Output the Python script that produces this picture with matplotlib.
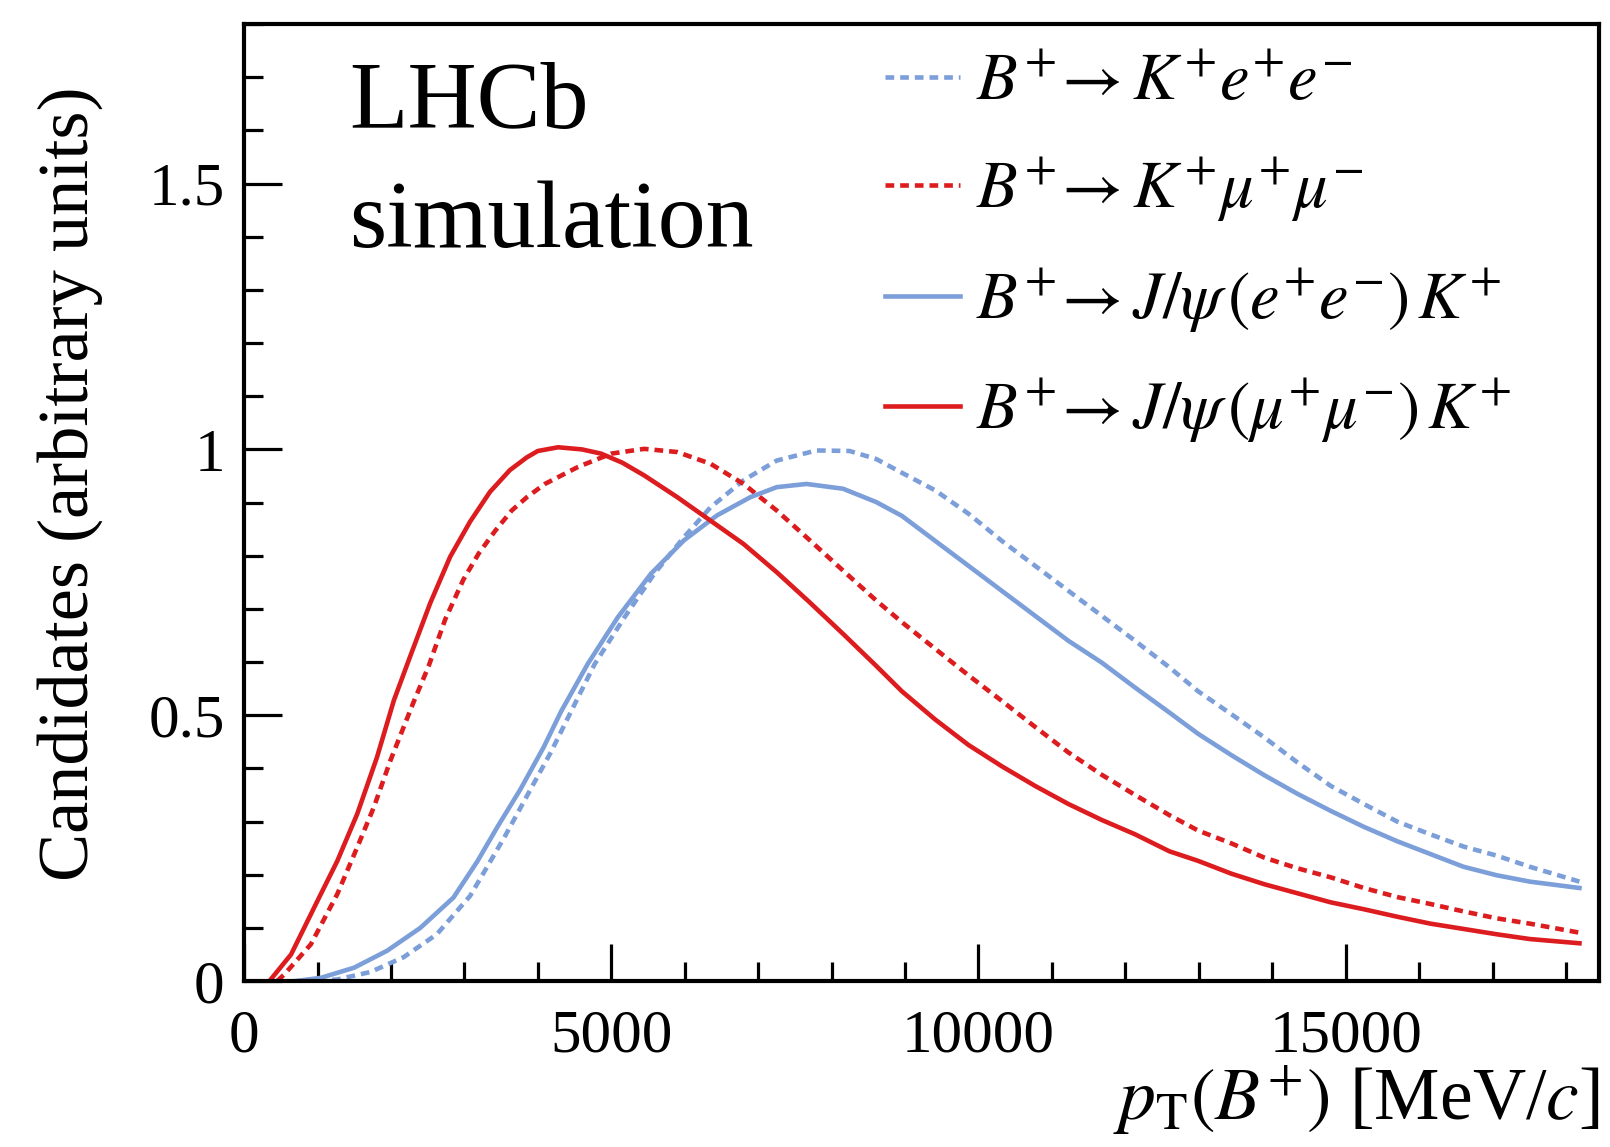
import numpy as np
import matplotlib
matplotlib.use("Agg")
import matplotlib.pyplot as plt
from matplotlib.ticker import MultipleLocator, FuncFormatter

plt.rcParams["font.family"] = ["Liberation Serif", "DejaVu Serif"]
plt.rcParams["mathtext.fontset"] = "stix"

# --- values (pT in MeV/c, normalised candidates) ---
kee_pt = [1000, 1271, 1722, 2174, 2625, 3077, 3226, 3543, 3859, 4176, 4456, 4773, 5179,
          5585, 5990, 6351, 6802, 7253, 7794, 8245, 8606, 8957, 9410, 9864, 10317, 10771,
          11224, 11678, 12132, 12600, 12991, 13442, 13894, 14345, 14797, 15248, 15700,
          16151, 16603, 17054, 17506, 18183]
kee_y = [0.0, 0.003, 0.017, 0.045, 0.088, 0.16, 0.195, 0.27, 0.35, 0.43, 0.508, 0.596, 0.684,
         0.766, 0.835, 0.891, 0.942, 0.979, 0.998, 0.997, 0.982, 0.956, 0.923, 0.879, 0.828, 0.781,
         0.734, 0.687, 0.64, 0.59, 0.545, 0.502, 0.458, 0.411, 0.367, 0.333, 0.30,
         0.276, 0.253, 0.236, 0.215, 0.187]

kmm_pt = [450, 549, 909, 1271, 1542, 1767, 1993, 2309, 2512, 2738, 2986, 3194, 3420, 3644,
          3850, 4096, 4547, 4997, 5449, 5900, 6351, 6802, 7253, 7704, 8156, 8606, 8957,
          9410, 9864, 10317, 10771, 11224, 11678, 12132, 12600, 12991, 13442, 13894,
          14345, 14797, 15248, 15700, 16151, 16603, 17054, 17506, 18183]
kmm_y = [0.0, 0.0126, 0.069, 0.164, 0.252, 0.327, 0.415, 0.525, 0.592, 0.68, 0.755, 0.804, 0.847, 0.885,
         0.91, 0.935, 0.967, 0.992, 1.001, 0.995, 0.973, 0.935, 0.885, 0.829, 0.772, 0.716, 0.675,
         0.625, 0.575, 0.527, 0.478, 0.43, 0.388, 0.35, 0.312, 0.283, 0.259, 0.232,
         0.212, 0.195, 0.175, 0.158, 0.145, 0.131, 0.118, 0.108, 0.091]

jpsiee_pt = [700, 1045, 1497, 1948, 2400, 2851, 3176, 3450, 3760, 4080, 4320, 4682, 5088,
             5539, 5990, 6441, 6892, 7253, 7659, 8156, 8606, 8957, 9410, 9864, 10317, 10771,
             11224, 11678, 12132, 12600, 12991, 13442, 13894, 14345, 14797, 15248, 15700,
             16151, 16603, 17054, 17506, 18183]
jpsiee_y = [0.0, 0.006, 0.025, 0.057, 0.10, 0.157, 0.225, 0.29, 0.36, 0.44, 0.508, 0.597, 0.684,
            0.766, 0.829, 0.876, 0.91, 0.929, 0.935, 0.926, 0.901, 0.875, 0.828, 0.781, 0.734, 0.687,
            0.64, 0.599, 0.552, 0.505, 0.465, 0.425, 0.387, 0.352, 0.32, 0.29, 0.263,
            0.239, 0.215, 0.199, 0.187, 0.175]

jpsimm_pt = [345, 640, 1000, 1270, 1540, 1810, 2040, 2260, 2535, 2806, 3077, 3348, 3619,
             3850, 4000, 4276, 4600, 4862, 5150, 5449, 5900, 6351, 6802, 7253, 7704, 8156,
             8606, 8957, 9410, 9864, 10317, 10771, 11224, 11678, 12132, 12600, 12991,
             13442, 13894, 14345, 14797, 15248, 15700, 16151, 16603, 17054, 17506, 18183]
jpsimm_y = [0.0, 0.05, 0.151, 0.226, 0.314, 0.421, 0.528, 0.61, 0.711, 0.798, 0.864, 0.92, 0.961,
            0.985, 0.997, 1.004, 1.0, 0.992, 0.975, 0.951, 0.91, 0.866, 0.822, 0.769, 0.712, 0.653,
            0.593, 0.545, 0.492, 0.444, 0.404, 0.367, 0.333, 0.303, 0.276, 0.244, 0.226,
            0.202, 0.182, 0.165, 0.148, 0.135, 0.121, 0.108, 0.098, 0.088, 0.079, 0.071]

labels = [
    r"$B^{+}\!\rightarrow K^{+}e^{+}e^{-}$",
    r"$B^{+}\!\rightarrow K^{+}\mu^{+}\mu^{-}$",
    r"$B^{+}\!\rightarrow J/\psi\,(e^{+}e^{-})\,K^{+}$",
    r"$B^{+}\!\rightarrow J/\psi\,(\mu^{+}\mu^{-})\,K^{+}$",
]

blue = "#7c9fd9"
red = "#dc1c1e"

fig = plt.figure(figsize=(16.1, 11.47), dpi=100)
ax = fig.add_axes([0.1516, 0.1447, 0.8416, 0.8343])

lw = 3.3
dash = (0, (1.9, 1.3))
ax.plot(kee_pt, kee_y, color=blue, lw=lw, ls=dash, label=labels[0])
ax.plot(kmm_pt, kmm_y, color=red, lw=lw, ls=dash, label=labels[1])
ax.plot(jpsiee_pt, jpsiee_y, color=blue, lw=lw, label=labels[2])
ax.plot(jpsimm_pt, jpsimm_y, color=red, lw=lw, label=labels[3])

ax.set_xlim(0, 18450)
ax.set_ylim(0, 1.8)

ax.xaxis.set_major_locator(MultipleLocator(5000))
ax.xaxis.set_minor_locator(MultipleLocator(1000))
ax.yaxis.set_major_locator(MultipleLocator(0.5))
ax.yaxis.set_minor_locator(MultipleLocator(0.1))
ax.yaxis.set_major_formatter(FuncFormatter(lambda v, p: "%g" % v))
ax.xaxis.set_major_formatter(FuncFormatter(lambda v, p: "%d" % v))

for s in ax.spines.values():
    s.set_linewidth(3.0)
ax.tick_params(which="both", direction="in", top=False, right=False, width=2.3)
ax.tick_params(which="major", length=27, labelsize=44)
ax.tick_params(which="minor", length=14)
ax.tick_params(axis="y", pad=14)
ax.tick_params(axis="x", pad=20)

ax.set_ylabel("Candidates (arbitrary units)", fontsize=52)
ax.yaxis.set_label_coords(-0.104, 0.52)
ax.set_xlabel(r"$p_{\mathrm{T}}(B^{+})$ [MeV/$c$]", fontsize=53, ha="right", va="baseline")
ax.xaxis.set_label_coords(1.0, -0.145)

ax.text(0.0775, 0.891, "LHCb", transform=ax.transAxes, fontsize=69,
        va="baseline", ha="left")
ax.text(0.0775, 0.767, "simulation", transform=ax.transAxes, fontsize=69,
        va="baseline", ha="left")

ax.legend(loc="upper left", bbox_to_anchor=(0.473, 0.969), frameon=False, fontsize=48,
          handlelength=1.125, handletextpad=0.24, labelspacing=0.62, borderaxespad=0,
          borderpad=0)

fig.savefig("out.png", dpi=100)
plt.close(fig)
